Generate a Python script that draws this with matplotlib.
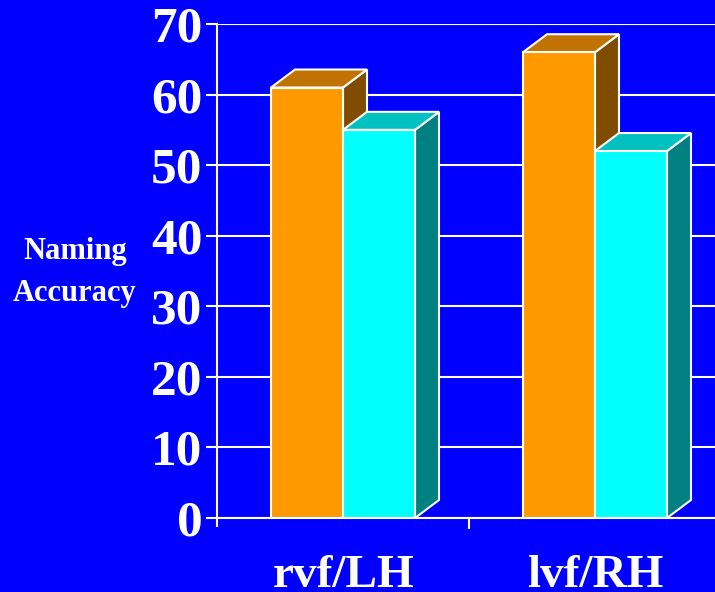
import matplotlib
matplotlib.use('Agg')
import matplotlib.pyplot as plt
from matplotlib.patches import Polygon

categories = ['rvf/LH', 'lvf/RH']
orange_vals = [61, 66]
cyan_vals = [55, 52]
yticks = [0, 10, 20, 30, 40, 50, 60, 70]

W, H = 715, 592
plt.rcParams['font.family'] = ['Liberation Serif', 'DejaVu Serif']

fig = plt.figure(figsize=(W / 100, H / 100), dpi=100, facecolor='#0000ff')
# axes box in pixels: x 217..715, y 24..518
ax = fig.add_axes([217 / W, 1 - 518 / H, (W - 217) / W, (518 - 24) / H], facecolor='#0000ff')
ax.set_xlim(217, 715)
ax.set_ylim(0, 70)

for s in ['top', 'right', 'bottom']:
    ax.spines[s].set_visible(False)
ax.spines['left'].set_color('white')
ax.spines['left'].set_linewidth(1.5)
ax.spines['left'].set_position(('data', 217))

ax.set_yticks(yticks)
ax.set_yticklabels([str(v) for v in yticks], fontsize=37, fontweight='bold', color='white')
ax.tick_params(axis='y', color='white', width=1.5, length=8, pad=2.5)
ax.yaxis.grid(True, color='white', linewidth=1.5)
ax.set_axisbelow(True)

ax.set_xticks([469])
ax.set_xticklabels([''])
ax.tick_params(axis='x', color='white', width=1.5, length=8)
ax.plot([217, 715], [0, 0], color='white', lw=1.5, clip_on=False, zorder=2)
ax.plot([217, 217], [0, -1.2], color='white', lw=1.5, clip_on=False, zorder=2)

# 3d offset of the bars
dx = 24
dy = 18 * 70 / 494
bw = 72
lefts = [271, 523]


def bar3d(x, v, front, top, side):
    ax.add_patch(Polygon([(x + bw, 0), (x + bw + dx, dy), (x + bw + dx, v + dy), (x + bw, v)],
                         fc=side, ec='white', lw=1.5, zorder=3, clip_on=False))
    ax.add_patch(Polygon([(x, v), (x + dx, v + dy), (x + bw + dx, v + dy), (x + bw, v)],
                         fc=top, ec='white', lw=1.5, zorder=3, clip_on=False))
    ax.bar(x, v, width=bw, align='edge', color=front, edgecolor='white', lw=1.5, zorder=4)


for i, x in enumerate(lefts):
    bar3d(x, orange_vals[i], '#ff9900', '#c07300', '#804d00')
    bar3d(x + bw, cyan_vals[i], '#00ffff', '#00c0c0', '#008080')

for x, name in zip([344, 595], categories):
    fig.text(x / W, 1 - 587 / H, name, color='white', fontsize=34, fontweight='bold', ha='center', va='baseline')

fig.text(75 / W, 1 - 259 / H, 'Naming', color='white', fontsize=22, fontweight='bold', ha='center', va='baseline')
fig.text(75 / W, 1 - 301 / H, 'Accuracy', color='white', fontsize=22, fontweight='bold', ha='center', va='baseline')

fig.savefig('out.png', dpi=100, facecolor=fig.get_facecolor())
